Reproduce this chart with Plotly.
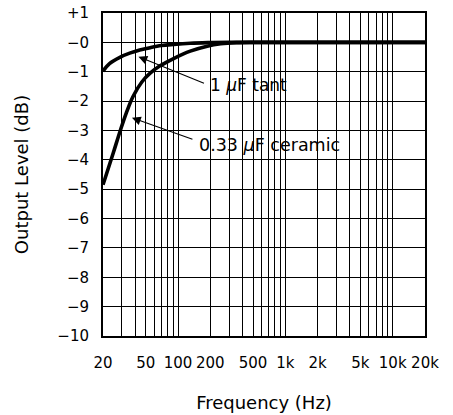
import math
import plotly.graph_objects as go

# Data
freq_ceramic = [20, 25, 29, 33, 38, 46, 55, 68, 91, 130, 187, 250, 350, 500, 1000, 20000]
db_ceramic = [-4.85, -3.75, -3.0, -2.4, -1.85, -1.35, -1.05, -0.8, -0.55, -0.3, -0.13, -0.05, -0.01, 0, 0, 0]

freq_tant = [20, 23, 29, 36, 44, 55, 70, 91, 130, 190, 300, 1000, 20000]
db_tant = [-0.98, -0.72, -0.5, -0.36, -0.26, -0.18, -0.11, -0.07, -0.03, -0.01, 0, 0, 0]

x_tick_vals = [20, 50, 100, 200, 500, 1000, 2000, 5000, 10000, 20000]
x_tick_text = ["20", "50", "100", "200", "500", "1k", "2k", "5k", "10k", "20k"]
x_minor_grid = [30, 40, 60, 70, 80, 90, 300, 400, 600, 700, 800, 900,
                3000, 4000, 6000, 7000, 8000, 9000]

y_tick_vals = [1, 0, -1, -2, -3, -4, -5, -6, -7, -8, -9, -10]
y_tick_text = ["+1", "\u22120", "\u22121", "\u22122", "\u22123", "\u22124", "\u22125",
               "\u22126", "\u22127", "\u22128", "\u22129", "\u221210"]

label_tant = "1 <i>\u00b5</i>F tant"
label_ceramic = "0.33 <i>\u00b5</i>F ceramic"
arrow_tant_tip = (42.8, -0.49)
arrow_ceramic_tip = (37.2, -2.57)

FONT = "DejaVu Sans"

fig = go.Figure()
fig.add_trace(go.Scatter(x=freq_ceramic, y=db_ceramic, mode="lines",
                         line=dict(color="black", width=3.6, shape="spline", smoothing=1.0),
                         showlegend=False, hoverinfo="skip"))
fig.add_trace(go.Scatter(x=freq_tant, y=db_tant, mode="lines",
                         line=dict(color="black", width=3.6, shape="spline", smoothing=1.0),
                         showlegend=False, hoverinfo="skip"))

# arrows (tail offsets in pixels from the tip)
for (fx, fy), (ax, ay) in [(arrow_tant_tip, (67, 27)), (arrow_ceramic_tip, (62, 22))]:
    fig.add_annotation(x=math.log10(fx), y=fy, xref="x", yref="y", text="",
                       showarrow=True, arrowhead=2, arrowsize=1.6, arrowwidth=1.1,
                       arrowcolor="black", ax=ax, ay=ay, standoff=0)

# labels placed as pixel offsets from the arrow tips
fig.add_annotation(x=math.log10(arrow_tant_tip[0]), y=arrow_tant_tip[1], xref="x", yref="y",
                   text=label_tant, showarrow=True, arrowcolor="rgba(0,0,0,0)",
                   ax=70, ay=28, xanchor="left", yanchor="middle",
                   font=dict(family=FONT, size=17, color="black"))
fig.add_annotation(x=math.log10(arrow_ceramic_tip[0]), y=arrow_ceramic_tip[1], xref="x", yref="y",
                   text=label_ceramic, showarrow=True, arrowcolor="rgba(0,0,0,0)",
                   ax=65, ay=27, xanchor="left", yanchor="middle",
                   font=dict(family=FONT, size=17.5, color="black"))

fig.update_xaxes(type="log", range=[math.log10(20), math.log10(20000)],
                 tickmode="array", tickvals=x_tick_vals, ticktext=x_tick_text,
                 showgrid=True, gridcolor="black", gridwidth=1.3,
                 minor=dict(tickmode="array", tickvals=x_minor_grid, showgrid=True,
                            gridcolor="black", gridwidth=1.3, ticks=""),
                 ticks="", ticklabelstandoff=12, automargin=False,
                 showline=True, linecolor="black", linewidth=2, mirror=True,
                 zeroline=False,
                 tickfont=dict(family=FONT, size=15, color="black"),
                 title=dict(text="Frequency (Hz)", font=dict(family=FONT, size=18, color="black"),
                            standoff=25))
fig.update_yaxes(range=[-10, 1], tickmode="array", tickvals=y_tick_vals, ticktext=y_tick_text,
                 showgrid=True, gridcolor="black", gridwidth=1.3,
                 ticks="", ticklabelstandoff=9, automargin=False,
                 showline=True, linecolor="black", linewidth=2, mirror=True,
                 zeroline=False,
                 tickfont=dict(family=FONT, size=15, color="black"),
                 title=dict(text="Output Level (dB)", font=dict(family=FONT, size=18, color="black"),
                            standoff=24))

fig.update_layout(width=453, height=415,
                  margin=dict(l=103, r=28, t=13, b=79),
                  paper_bgcolor="white", plot_bgcolor="white",
                  font=dict(family=FONT, color="black"))

fig.write_html("out.html", config={"displayModeBar": False},
               post_script="document.body.style.margin='0';document.body.style.overflow='hidden';")
